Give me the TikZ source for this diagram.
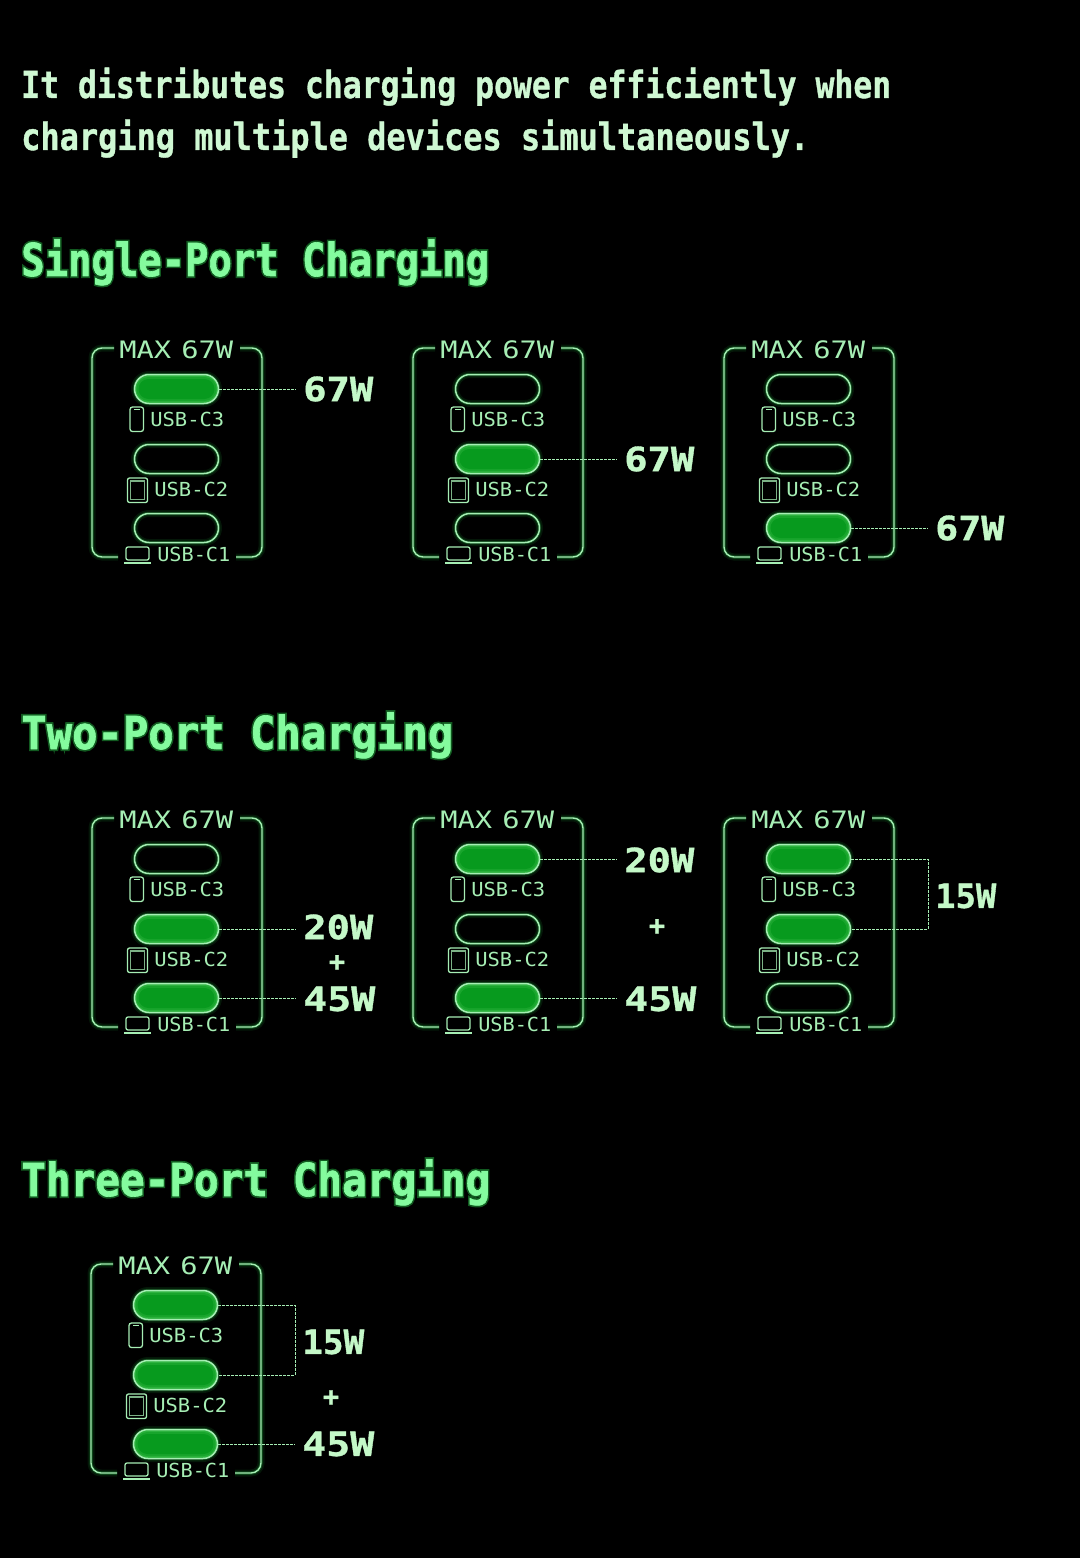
\documentclass[tikz,border=0pt]{standalone}
\usepackage{fontspec}
\usepackage{graphicx}
\setmainfont{DejaVu Sans Mono}
\newfontfamily\fheavy[FakeBold=1]{DejaVu Sans Mono Bold}
\newfontfamily\ftitle[FakeBold=1.5]{DejaVu Sans Mono Bold}
\newfontfamily\fhalo[FakeBold=9]{DejaVu Sans Mono Bold}
\newfontfamily\fthin{DejaVu Sans Mono}
\newlength\px \setlength\px{.75pt}
\definecolor{bodytxt}{HTML}{CFF8D3}
\definecolor{titletxt}{HTML}{84FB9E}
\definecolor{halo}{HTML}{1FA33A}
\definecolor{linec}{HTML}{A6EEB4}
\definecolor{labelc}{HTML}{C4F8C8}
\definecolor{core}{HTML}{079A1E}
\definecolor{midg}{HTML}{2CB23E}
\newcommand{\wfit}[2]{\resizebox{#1\px}{\height}{#2}}
\tikzset{
  x=.75pt,y=-.75pt,
  lineglow/.style={preaction={draw=halo,line width=7\px,opacity=.14},preaction={draw=halo,line width=3.5\px,opacity=.32}},
  cardline/.style={draw=linec,line width=1.4\px,rounded corners=10\px,lineglow},
  thinline/.style={draw=linec,line width=1.3\px},
  pilloff/.style={rectangle,minimum width=84\px,minimum height=29\px,inner sep=0pt,rounded corners=14.5\px,draw=linec,line width=1.5\px,lineglow},
  pillon/.style={pilloff,fill=midg},
  cardtxt/.style={inner sep=0pt,anchor=west,text=linec,font=\fthin\fontsize{18}{18}\selectfont},
  porttxt/.style={cardtxt,font=\fthin\fontsize{14.5}{15}\selectfont},
  wattlab/.style={inner xsep=7\px,inner ysep=0pt,anchor=west,text=labelc,font=\fheavy\fontsize{25}{25}\selectfont},
  plussign/.style={inner sep=0pt,text=labelc,font=\fheavy\fontsize{20}{20}\selectfont},
  leader/.style={draw=linec,line width=1\px,dash pattern=on 2.5\px off 1.5\px},
  headline/.style={inner sep=0pt,anchor=base west,text=titletxt,font=\ftitle\fontsize{34}{34}\selectfont},
  headhalo/.style={headline,text=halo!55!black,font=\fhalo\fontsize{34}{34}\selectfont},
  bodyline/.style={inner sep=0pt,anchor=base west,text=bodytxt,font=\fheavy\fontsize{28}{28}\selectfont},
}
% #1 node name, #2 y centre, #3 a=active / i=idle
\newcommand{\portpill}[3]{%
  \if#3a
    \node[pillon] (#1) at (176.5,#2) {};
    \fill[core!55!midg,rounded corners=12\px] (136.5,#2-12) rectangle (216.5,#2+12);
    \fill[core,rounded corners=10\px] (138.5,#2-10) rectangle (214.5,#2+10);
  \else
    \node[pilloff] (#1) at (176.5,#2) {};
  \fi}
% #1 prefix, #2 dx, #3 dy, #4 #5 #6 states of C3 C2 C1
\newcommand{\chargercard}[6]{%
\begin{scope}[shift={(#2,#3)}]
  \draw[cardline] (114,348) -- (92,348) -- (92,557) -- (118,557);
  \draw[cardline] (240,348) -- (262,348) -- (262,557) -- (236,557);
  \node[cardtxt] (#1max) at (119,350) {\wfit{114}{MAX\kern-.25em\ 67W}};
  \portpill{#1c}{389}{#4}
  \portpill{#1b}{459}{#5}
  \portpill{#1a}{528}{#6}
  % phone
  \draw[thinline,rounded corners=2.5\px] (130,407) rectangle (143.5,431.5);
  \draw[thinline,line width=.8\px] (134,409) -- (139.5,409);
  \node[porttxt] (#1lc) at (150,419.5) {\wfit{74}{USB-C3}};
  % tablet
  \draw[thinline,rounded corners=2\px] (127.5,478) rectangle (147.5,502.5);
  \draw[thinline,opacity=.75] (130.5,481) rectangle (144.5,499.5);
  \node[porttxt] (#1lb) at (154,489.5) {\wfit{74}{USB-C2}};
  % laptop
  \draw[thinline,rounded corners=2\px] (126,547) rectangle (149,560);
  \draw[thinline,line width=1.6\px] (124,563) -- (151,563);
  \node[porttxt] (#1la) at (157,554.5) {\wfit{73}{USB-C1}};
\end{scope}}
\newcommand{\wattlabel}[5]{% name, x, y, width, text
  \node[wattlab] (#1) at (#2,#3) {\wfit{#4}{#5}};}
\begin{document}
\begin{tikzpicture}
\useasboundingbox (0,0) rectangle (1080,1558);
\fill[black] (0,0) rectangle (1080,1558);

\node[bodyline] (intro1) at (21,98) {\wfit{870}{It distributes charging power efficiently when}};
\node[bodyline] (intro2) at (21,150) {\wfit{788}{charging multiple devices simultaneously.}};

\node[headhalo] (h1g) at (21,276) {\wfit{468}{Single-Port Charging}};
\node[headline] (h1) at (21,276) {\wfit{468}{Single-Port Charging}};
\node[headhalo] (h2g) at (21,749) {\wfit{432}{Two-Port Charging}};
\node[headline] (h2) at (21,749) {\wfit{432}{Two-Port Charging}};
\node[headhalo] (h3g) at (21,1196) {\wfit{469}{Three-Port Charging}};
\node[headline] (h3) at (21,1196) {\wfit{469}{Three-Port Charging}};

% Single-port
\chargercard{p}{0}{0}{a}{i}{i}
\chargercard{q}{321}{0}{i}{a}{i}
\chargercard{r}{632}{0}{i}{i}{a}
\wattlabel{w1}{296}{389}{70}{67W}
\wattlabel{w2}{617}{459}{70}{67W}
\wattlabel{w3}{928}{528}{69}{67W}
\draw[leader] (pc.east) -- (pc.east -| w1.west);
\draw[leader] (qb.east) -- (qb.east -| w2.west);
\draw[leader] (ra.east) -- (ra.east -| w3.west);

% Two-port
\chargercard{s}{0}{470}{i}{a}{a}
\chargercard{t}{321}{470}{a}{i}{a}
\chargercard{u}{632}{470}{a}{a}{i}
\wattlabel{w4}{296}{927}{70}{20W}
\node[plussign] (pl1) at (337,963) {+};
\wattlabel{w5}{296}{999}{72}{45W}
\draw[leader] (sb.east) -- (sb.east -| w4.west);
\draw[leader] (sa.east) -- (sa.east -| w5.west);
\wattlabel{w6}{617}{860}{70}{20W}
\node[plussign] (pl2) at (657,927) {+};
\wattlabel{w7}{617}{999}{72}{45W}
\draw[leader] (tc.east) -- (tc.east -| w6.west);
\draw[leader] (ta.east) -- (ta.east -| w7.west);
\wattlabel{w8}{928}{896}{61}{15W}
\draw[leader] (uc.east) -- (uc.east -| w8.west) -- (ub.east -| w8.west) -- (ub.east);

% Three-port
\chargercard{v}{-1}{916}{a}{a}{a}
\wattlabel{w9}{295}{1342}{62}{15W}
\node[plussign] (pl3) at (331,1398) {+};
\wattlabel{w10}{295}{1444}{72}{45W}
\draw[leader] (vc.east) -- (vc.east -| w9.west) -- (vb.east -| w9.west) -- (vb.east);
\draw[leader] (va.east) -- (va.east -| w10.west);
\end{tikzpicture}
\end{document}
